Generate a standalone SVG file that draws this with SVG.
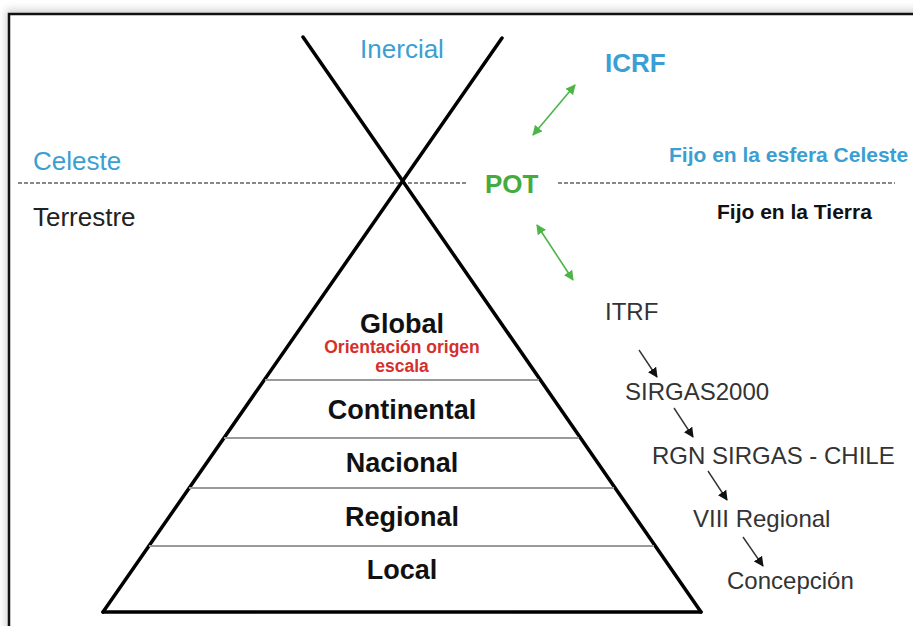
<svg xmlns="http://www.w3.org/2000/svg" width="913" height="626" viewBox="0 0 913 626">
<style>
  text { font-family: "Liberation Sans", Arial, sans-serif; }
  .blue { fill: #3b9fd3; }
  .green { fill: #44ab3e; }
  .big { font-size: 26px; }
  .bold { font-weight: bold; }
  .lvl { font-size: 27px; font-weight: bold; fill: #111; text-anchor: middle; }
  .red { font-size: 17.5px; font-weight: bold; fill: #d5302b; text-anchor: middle; }
  .ref { font-size: 24px; fill: #333; }
  .thick { stroke: #000; stroke-width: 3.5; fill: none; stroke-linecap: round; }
  .tier { stroke: #9a9a9a; stroke-width: 2; }
  .dash { stroke: #888; stroke-width: 2; stroke-dasharray: 4 2; }
  .garrow { stroke: #4cb548; stroke-width: 1.6; marker-start: url(#gh); marker-end: url(#gh); }
  .karrow { stroke: #333; stroke-width: 1.4; marker-end: url(#kh); }
</style>
<defs>
  <filter id="sh" x="-10%" y="-10%" width="120%" height="120%">
    <feGaussianBlur stdDeviation="4"/>
  </filter>
  <marker id="gh" viewBox="0 0 10 10" refX="9" refY="5" markerWidth="10" markerHeight="10" markerUnits="userSpaceOnUse" orient="auto-start-reverse">
    <path d="M0,0 L10,5 L0,10 z" fill="#4cb548"/>
  </marker>
  <marker id="kh" viewBox="0 0 10 10" refX="9" refY="5" markerWidth="10" markerHeight="10" markerUnits="userSpaceOnUse" orient="auto">
    <path d="M0,0 L10,5 L0,10 z" fill="#111"/>
  </marker>
</defs>

<rect x="0" y="0" width="913" height="626" fill="#ffffff"/>
<rect x="6" y="10" width="930" height="640" fill="#cfcfcf" filter="url(#sh)"/>
<rect x="9" y="14" width="930" height="640" fill="#ffffff" stroke="#111" stroke-width="2.5"/>

<g id="axes">
  <line class="dash" x1="18" y1="183" x2="468" y2="183"/>
  <line class="dash" x1="558" y1="183" x2="895" y2="183"/>
</g>

<g id="pyramid">
  <line class="thick" x1="303" y1="37" x2="701" y2="612"/>
  <line class="thick" x1="502" y1="38" x2="103" y2="612"/>
  <line class="thick" x1="103" y1="612" x2="701" y2="612" stroke-width="4"/>
  <line class="tier" x1="265" y1="380" x2="539" y2="380"/>
  <line class="tier" x1="224" y1="438" x2="579" y2="438"/>
  <line class="tier" x1="189" y1="488" x2="614" y2="488"/>
  <line class="tier" x1="149" y1="546" x2="654" y2="546"/>
</g>

<g id="labels-left">
  <text class="blue big" x="402" y="58" text-anchor="middle">Inercial</text>
  <text class="blue big" x="33" y="170">Celeste</text>
  <text class="big" x="33" y="226" fill="#222">Terrestre</text>
</g>

<g id="node-global">
  <text class="lvl" x="402" y="333">Global</text>
  <text class="red" x="402" y="353">Orientación origen</text>
  <text class="red" x="402" y="372">escala</text>
</g>
<g id="node-continental"><text class="lvl" x="402" y="419">Continental</text></g>
<g id="node-nacional"><text class="lvl" x="402" y="472">Nacional</text></g>
<g id="node-regional"><text class="lvl" x="402" y="526">Regional</text></g>
<g id="node-local"><text class="lvl" x="402" y="579">Local</text></g>

<g id="node-icrf"><text class="blue big bold" x="605" y="72">ICRF</text></g>
<g id="node-pot"><text class="green big bold" x="485" y="193">POT</text></g>
<g id="label-celeste"><text class="blue bold" x="669" y="162" font-size="21">Fijo en la esfera Celeste</text></g>
<g id="label-tierra"><text class="bold" x="717" y="219" font-size="21" fill="#111">Fijo en la Tierra</text></g>

<g id="node-itrf"><text class="ref" x="605" y="320" font-size="23">ITRF</text></g>
<g id="node-sirgas2000"><text class="ref" x="625" y="400">SIRGAS2000</text></g>
<g id="node-rgn"><text class="ref" x="652" y="464">RGN SIRGAS - CHILE</text></g>
<g id="node-viii"><text class="ref" x="693" y="527">VIII Regional</text></g>
<g id="node-concepcion"><text class="ref" x="727" y="589">Concepción</text></g>

<g id="connectors">
  <line class="garrow" x1="533" y1="135" x2="575" y2="85"/>
  <line class="garrow" x1="537" y1="225" x2="573" y2="280"/>
  <line class="karrow" x1="639" y1="350" x2="657" y2="377"/>
  <line class="karrow" x1="674" y1="408" x2="693" y2="437"/>
  <line class="karrow" x1="708" y1="471" x2="727" y2="500"/>
  <line class="karrow" x1="743" y1="537" x2="763" y2="566"/>
</g>
</svg>
